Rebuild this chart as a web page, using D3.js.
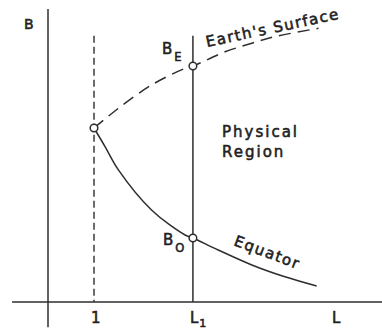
<!DOCTYPE html>
<html>
<head>
<meta charset="utf-8">
<script src="https://cdn.jsdelivr.net/npm/d3@7/dist/d3.min.js"></script>
<style>
  html, body { margin: 0; padding: 0; background: #fff; }
  svg { display: block; }
  text { font-family: "DejaVu Sans", "Liberation Sans", sans-serif; fill: #222; stroke: #222; stroke-width: 0.55px; }
</style>
</head>
<body>
<svg id="chart" width="382" height="331"></svg>
<script>
// Field magnitude B against L shell (schematic, dipole-like)
const L1 = 3.15;          // chosen field line
const BE = 1.356;         // field at the Earth's surface on L1
const B0 = 0.368;         // field at the equator on L1

// Equatorial field strength along L
const equatorL = [1.0, 1.24, 1.53, 2.25, 2.98, L1, 3.70, 4.43, 5.15, 5.84];
const equatorB = [1.0, 0.893, 0.759, 0.529, 0.385, B0, 0.299, 0.213, 0.145, 0.092];

// Surface field strength along L
const surfaceL = [1.0, 1.53, 2.25, 2.98, L1, 3.85, 4.43, 4.93, 5.88];
const surfaceB = [1.0, 1.113, 1.247, 1.343, BE, 1.438, 1.487, 1.525, 1.573];

// Tick labels on the L axis
const tickValues = [1, L1, 6.24];
const tickLabels = [["1", ""], ["L", "1"], ["L", ""]];

// Marked points on the diagram
const markerL = [1, L1, L1];
const markerB = [1, BE, B0];

const svg = d3.select("#chart");
const ink = "#2e2e2e";

const x = d3.scaleLinear().domain([0, 7.26]).range([48, 382]);
const y = d3.scaleLinear().domain([0, 1.684]).range([302, 9]);

// Axes: horizontal L axis and vertical B axis, crossing past each other
svg.append("line")
  .attr("x1", x(-0.78)).attr("x2", x(7.26))
  .attr("y1", y(0)).attr("y2", y(0))
  .attr("stroke", ink).attr("stroke-width", 1.5);
svg.append("line")
  .attr("x1", x(0)).attr("x2", x(0))
  .attr("y1", y(1.684)).attr("y2", y(-0.145))
  .attr("stroke", ink).attr("stroke-width", 1.5);

// Dashed line at L = 1
svg.append("line")
  .attr("x1", x(1)).attr("x2", x(1))
  .attr("y1", y(1.53)).attr("y2", y(0))
  .attr("stroke", ink).attr("stroke-width", 1.4)
  .attr("stroke-dasharray", "7,4");

// Solid line at L = L1
svg.append("line")
  .attr("x1", x(L1)).attr("x2", x(L1))
  .attr("y1", y(1.53)).attr("y2", y(0))
  .attr("stroke", ink).attr("stroke-width", 1.5);

const line = d3.line()
  .x(d => x(d[0]))
  .y(d => y(d[1]))
  .curve(d3.curveCatmullRom.alpha(0.5));

// Equator curve (solid)
svg.append("path")
  .datum(d3.zip(equatorL, equatorB))
  .attr("d", line)
  .attr("fill", "none").attr("stroke", ink).attr("stroke-width", 1.5);

// Earth's surface curve (dashed)
svg.append("path")
  .datum(d3.zip(surfaceL, surfaceB))
  .attr("d", line)
  .attr("fill", "none").attr("stroke", ink).attr("stroke-width", 1.5)
  .attr("stroke-dasharray", "12,7");

// Open circle markers
svg.selectAll("circle.marker")
  .data(d3.zip(markerL, markerB))
  .join("circle")
  .attr("class", "marker")
  .attr("cx", d => x(d[0])).attr("cy", d => y(d[1]))
  .attr("r", 3.8)
  .attr("fill", "#fff").attr("stroke", ink).attr("stroke-width", 1.5);

// L axis tick labels
const ticks = svg.selectAll("text.tick")
  .data(d3.zip(tickValues, tickLabels))
  .join("text")
  .attr("class", "tick")
  .attr("x", d => x(d[0]) - 3)
  .attr("y", 323)
  .attr("font-size", 15);
ticks.append("tspan").text(d => d[1][0]);
ticks.append("tspan")
  .attr("font-size", 11).attr("dx", 1).attr("dy", 4)
  .text(d => d[1][1]);

// B axis label
svg.append("text")
  .attr("x", 24).attr("y", 29)
  .attr("font-size", 14)
  .text("B");

// Point labels
const be = svg.append("text")
  .attr("x", x(L1) - 31).attr("y", y(BE) - 12)
  .attr("font-size", 15);
be.append("tspan").text("B");
be.append("tspan").attr("font-size", 11.5).attr("dx", 2).attr("dy", 7).text("E");

const b0 = svg.append("text")
  .attr("x", x(L1) - 30).attr("y", y(B0) + 7)
  .attr("font-size", 15);
b0.append("tspan").text("B");
b0.append("tspan").attr("font-size", 11.5).attr("dx", 2).attr("dy", 7).text("O");

// Region label
svg.append("text")
  .attr("x", 222).attr("y", 137)
  .attr("font-size", 15).attr("letter-spacing", 2)
  .text("Physical");
svg.append("text")
  .attr("x", 222).attr("y", 157)
  .attr("font-size", 15).attr("letter-spacing", 2)
  .text("Region");

// Curve labels
svg.append("text")
  .attr("transform", "translate(207,47) rotate(-12)")
  .attr("font-size", 15).attr("letter-spacing", 1.5)
  .text("Earth's Surface");

svg.append("text")
  .attr("transform", "translate(233,245) rotate(20.5)")
  .attr("font-size", 15).attr("letter-spacing", 1.5)
  .text("Equator");
</script>
</body>
</html>
